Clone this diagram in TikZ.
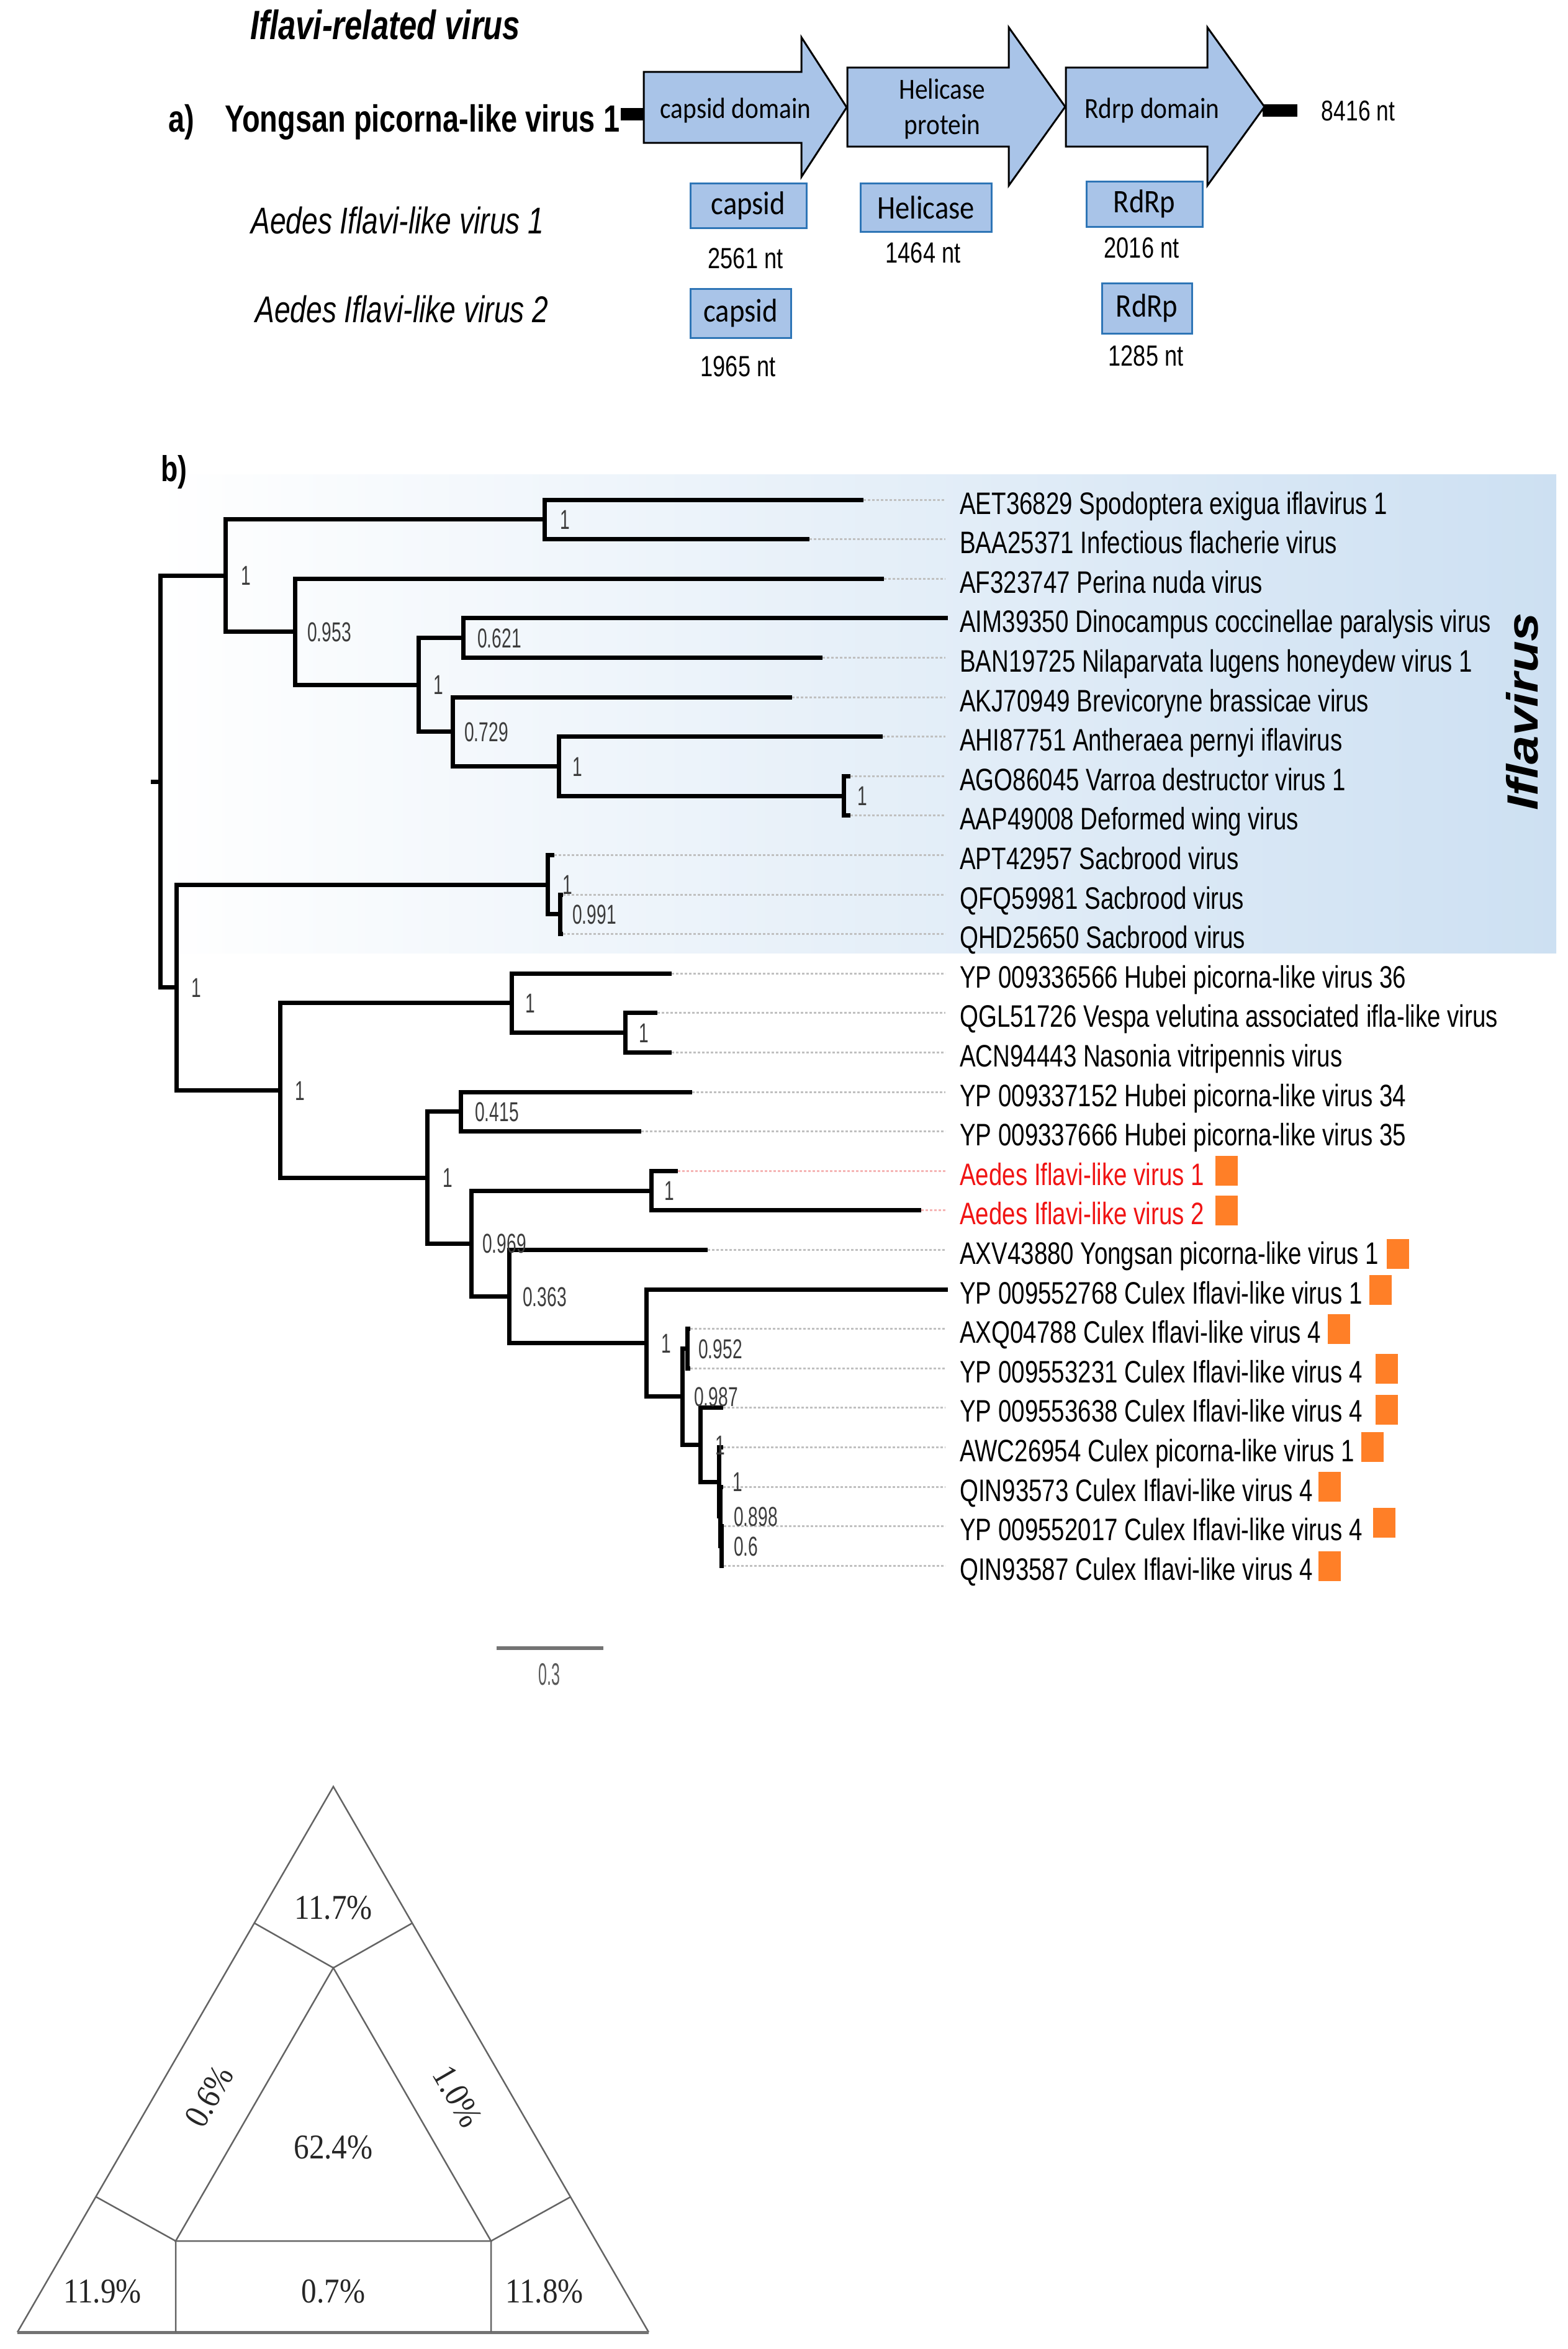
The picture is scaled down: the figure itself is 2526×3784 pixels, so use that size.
\documentclass[tikz,border=0pt]{standalone}
\usepackage{fontspec}
\usepackage{graphicx}
\setmainfont[FakeStretch=0.77]{Liberation Sans}
\newfontfamily\calfont[FakeStretch=0.88]{Carlito}
\newfontfamily\serfont[FakeStretch=0.88]{Liberation Serif}
\newfontfamily\labfont[FakeStretch=0.64]{Liberation Sans}
\newfontfamily\sclfont[FakeStretch=0.5]{Liberation Sans}
\newfontfamily\widefont{Liberation Sans}
\newcommand\myfs[1]{\fontsize{#1}{#1}\selectfont}
\definecolor{iflblue}{RGB}{205,224,242}
\definecolor{leadgray}{RGB}{192,192,192}
\definecolor{leadpink}{RGB}{245,180,180}
\definecolor{orsq}{RGB}{255,127,39}
\definecolor{aedred}{RGB}{240,20,20}
\definecolor{labgray}{RGB}{60,60,60}
\definecolor{arrblue}{RGB}{169,196,232}
\definecolor{boxedge}{RGB}{46,117,182}
\definecolor{trigray}{RGB}{100,100,100}
\begin{document}
\begin{tikzpicture}[x=1pt,y=-1pt,
  br/.style={line width=7pt,black,line join=miter},
  lead/.style={line width=3pt,dash pattern=on 4pt off 3pt},
  tiplab/.style={anchor=west,inner sep=0pt,text height=36pt,text depth=0pt,font=\myfs{50}},
  supl/.style={anchor=west,inner sep=0pt,text height=31.5pt,text depth=0pt,font=\labfont\myfs{44},text=labgray},
  osqr/.style={fill=orsq,draw=none,minimum width=36pt,minimum height=48pt,inner sep=0pt},
  arrshape/.style={fill=arrblue,draw=black,line width=3pt,line join=miter},
  arrtxt/.style={anchor=base,inner sep=0pt,font=\calfont\myfs{47}},
  dbox/.style={fill=arrblue,draw=boxedge,line width=3pt,inner sep=0pt,font=\calfont\myfs{53}},
  ntlab/.style={anchor=base,inner sep=0pt,font=\myfs{47}},
  bar/.style={line width=20pt,black},
  tri/.style={draw=trigray,line width=2.5pt,line join=miter},
  trilab/.style={inner sep=0pt,font=\serfont\myfs{56},text=black!85}]
\useasboundingbox (0,0) rectangle (2526,3784);

% ================= part a =================
\node[anchor=base west,inner sep=0pt,font=\myfs{66}\bfseries\itshape] (title) at (403,64) {Iflavi-related virus};
\node[anchor=base west,inner sep=0pt,font=\myfs{61}\bfseries] (alab) at (271,213) {a)};
\node[anchor=base west,inner sep=0pt,font=\myfs{61}\bfseries] (yong) at (362,213) {Yongsan picorna-like virus 1};
\node[anchor=base west,inner sep=0pt,font=\myfs{60}\itshape] (aed1) at (404,376) {Aedes Iflavi-like virus 1};
\node[anchor=base west,inner sep=0pt,font=\myfs{60}\itshape] (aed2) at (411,519) {Aedes Iflavi-like virus 2};

\draw[bar] (1000,184) -- (1040,184);
\draw[bar] (2034,178) -- (2090,178);
\filldraw[arrshape] (1037,116) -- (1291,116) -- (1291,60) -- (1364,173) -- (1291,285) -- (1291,230) -- (1037,230) -- cycle;
\filldraw[arrshape] (1365,109) -- (1625,109) -- (1625,44) -- (1716,172) -- (1625,299) -- (1625,236) -- (1365,236) -- cycle;
\filldraw[arrshape] (1717,109) -- (1945,109) -- (1945,44) -- (2037,172) -- (1945,299) -- (1945,236) -- (1717,236) -- cycle;
\node[arrtxt] (capdom) at (1185,191) {capsid domain};
\node[arrtxt] (heli1) at (1518,160) {Helicase};
\node[arrtxt] (heli2) at (1518,216) {protein};
\node[arrtxt] (rdrpdom) at (1856,191) {Rdrp domain};
\node[ntlab,font=\myfs{46}] (len) at (2188,195) {8416 nt};

\node[dbox,minimum width=187pt,minimum height=72pt] (bcap1) at (1205.5,331) {capsid};
\node[dbox,minimum width=211pt,minimum height=78pt] (bheli) at (1491.5,334) {Helicase};
\node[dbox,minimum width=187pt,minimum height=73pt] (brdrp1) at (1843.5,328.5) {RdRp};
\node[dbox,minimum width=162pt,minimum height=79pt] (bcap2) at (1193,504.5) {capsid};
\node[dbox,minimum width=145pt,minimum height=81pt] (brdrp2) at (1847.5,496.5) {RdRp};
\node[ntlab] (n2561) at (1201,432) {2561 nt};
\node[ntlab] (n1464) at (1487,423) {1464 nt};
\node[ntlab] (n2016) at (1839,415) {2016 nt};
\node[ntlab] (n1965) at (1189,606) {1965 nt};
\node[ntlab] (n1285) at (1846,589) {1285 nt};

% ================= part b =================
\shade[left color=white,right color=iflblue] (249,764) rectangle (2507,1535);
\node[anchor=base west,inner sep=0pt,font=\myfs{58}\bfseries] (blab) at (259,775) {b)};
\node[rotate=90,inner sep=0pt,font=\widefont\myfs{83}\bfseries\itshape] (iflv) at (2452,1146) {\scalebox{1}[0.85]{Iflavirus}};

% tips
\foreach \i/\x in {1/1391,2/1304,3/1424,4/1527,5/1325,6/1276,7/1422,8/1370,9/1370,10/893,11/907,12/907,13/1082,14/1059,15/1082,16/1115,17/1033,18/1092,19/1484,20/1140,21/1527,22/1112,23/1112,24/1165,25/1165,26/1165,27/1166,28/1166}{
  \coordinate (t\i) at (\x,{805+(\i-1)*63.6});
  \coordinate (e\i) at (1523,{805+(\i-1)*63.6});
}
% leaders
\foreach \i in {1,2,3,5,6,7,8,9,10,11,12,13,14,15,16,17,20,22,23,24,25,26,27,28}{
  \draw[lead,leadgray] (t\i) -- (e\i);
}
\foreach \i in {18,19}{
  \draw[lead,leadpink] (t\i) -- (e\i);
}

% internal nodes
\coordinate (root) at (258,1259);
\coordinate (stub) at (243,1259);
\coordinate (nA) at (363,927.2);
\coordinate (nB) at (877,836.8);
\coordinate (nC) at (475,1017.7);
\coordinate (nD) at (674,1103.1);
\coordinate (nE) at (746,1027.6);
\coordinate (nF) at (729,1178.65);
\coordinate (nG) at (900,1234.3);
\coordinate (nH) at (1359,1282);
\coordinate (nK) at (284,1590.8);
\coordinate (nI) at (882,1425.1);
\coordinate (nJ) at (902,1472.8);
\coordinate (nL) at (451,1756.5);
\coordinate (nM) at (824,1615.9);
\coordinate (nN) at (1007,1663.6);
\coordinate (nO) at (688,1897);
\coordinate (nP) at (742,1790.8);
\coordinate (nQ) at (759,2003.2);
\coordinate (nR) at (1049,1918);
\coordinate (nS) at (820,2088.4);
\coordinate (nT) at (1041,2163.45);
\coordinate (nU) at (1099,2249.9);
\coordinate (nV) at (1107,2172.4);
\coordinate (nW) at (1128,2327.4);
\coordinate (nX) at (1158,2387.05);
\coordinate (nY) at (1160,2442.7);
\coordinate (nZ) at (1162,2490.4);

\draw[br] (stub) -- (root);
\foreach \a/\b in {root/nA,root/nK,nA/nB,nA/nC,nB/t1,nB/t2,nC/t3,nC/nD,nD/nE,nD/nF,nE/t4,nE/t5,nF/t6,nF/nG,nG/t7,nG/nH,nH/t8,nH/t9,
  nK/nI,nK/nL,nI/t10,nI/nJ,nJ/t11,nJ/t12,nL/nM,nL/nO,nM/t13,nM/nN,nN/t14,nN/t15,nO/nP,nO/nQ,nP/t16,nP/t17,nQ/nR,nQ/nS,nR/t18,nR/t19,
  nS/t20,nS/nT,nT/t21,nT/nU,nU/nV,nU/nW,nV/t22,nV/t23,nW/t24,nW/nX,nX/t25,nX/nY,nY/t26,nY/nZ,nZ/t27,nZ/t28}{
  \draw[br] (\a) |- (\b);
}

% support values
\foreach \n/\v/\d in {A/1/25,B/1/25,C/0.953/20,D/1/24,E/0.621/23,F/0.729/19,G/1/22,H/1/22,K/1/24,I/1/24,J/0.991/20,L/1/24,M/1/22,N/1/22,
  O/1/25,P/0.415/23,Q/0.969/18,R/1/21,S/0.363/22,T/1/24,U/0.987/19,V/0.952/18,W/1/24,X/1/22,Y/0.898/22,Z/0.6/20}{
  \node[supl] (s\n) at ([xshift=\d pt]n\n) {\v};
}

% tip labels
\foreach \i/\c/\t in {1/black/AET36829 Spodoptera exigua iflavirus 1,
  2/black/BAA25371 Infectious flacherie virus,
  3/black/AF323747 Perina nuda virus,
  4/black/AIM39350 Dinocampus coccinellae paralysis virus,
  5/black/BAN19725 Nilaparvata lugens honeydew virus 1,
  6/black/AKJ70949 Brevicoryne brassicae virus,
  7/black/AHI87751 Antheraea pernyi iflavirus,
  8/black/AGO86045 Varroa destructor virus 1,
  9/black/AAP49008 Deformed wing virus,
  10/black/APT42957 Sacbrood virus,
  11/black/QFQ59981 Sacbrood virus,
  12/black/QHD25650 Sacbrood virus,
  13/black/YP 009336566 Hubei picorna-like virus 36,
  14/black/QGL51726 Vespa velutina associated ifla-like virus,
  15/black/ACN94443 Nasonia vitripennis virus,
  16/black/YP 009337152 Hubei picorna-like virus 34,
  17/black/YP 009337666 Hubei picorna-like virus 35,
  18/aedred/Aedes Iflavi-like virus 1,
  19/aedred/Aedes Iflavi-like virus 2,
  20/black/AXV43880 Yongsan picorna-like virus 1,
  21/black/YP 009552768 Culex Iflavi-like virus 1,
  22/black/AXQ04788 Culex Iflavi-like virus 4,
  23/black/YP 009553231 Culex Iflavi-like virus 4,
  24/black/YP 009553638 Culex Iflavi-like virus 4,
  25/black/AWC26954 Culex picorna-like virus 1,
  26/black/QIN93573 Culex Iflavi-like virus 4,
  27/black/YP 009552017 Culex Iflavi-like virus 4,
  28/black/QIN93587 Culex Iflavi-like virus 4}{
  \node[tiplab,text=\c] (lab\i) at (1546,{810+(\i-1)*63.6}) {\t};
}

% orange squares
\foreach \i/\x/\y in {18/1976/1886,19/1976/1950,20/2252/2020,21/2224/2078,22/2157/2141,23/2234/2205,24/2234/2271,25/2211/2331,26/2142/2395,27/2230/2453,28/2142/2523}{
  \node[osqr] (q\i) at (\x,\y) {};
}

% scale bar
\coordinate (sb1) at (800,2655);
\coordinate (sb2) at (972,2655);
\draw[line width=6pt,black!55] (sb1) -- (sb2);
\node[inner sep=0pt,font=\sclfont\myfs{50},text=black!65] (sblab) at (885,2697) {0.3};

% ================= triangle =================
\coordinate (oA) at (537,2878);
\coordinate (oL) at (28,3757);
\coordinate (oR) at (1045,3757);
\coordinate (iA) at (537,3170);
\coordinate (iL) at (283,3610);
\coordinate (iR) at (791,3610);
\coordinate (eL1) at (410,3098);
\coordinate (eR1) at (664,3098);
\coordinate (eL2) at (155,3539);
\coordinate (eR2) at (919,3539);
\coordinate (bL) at (283,3757);
\coordinate (bR) at (791,3757);
\draw[tri] (oL) -- (oA) -- (oR);
\draw[draw=black!55,line width=5pt] (oL) -- (oR);
\draw[tri] (iA) -- (iL) -- (iR) -- cycle;
\draw[tri] (eL1) -- (iA) -- (eR1);
\draw[tri] (eL2) -- (iL) -- (bL);
\draw[tri] (eR2) -- (iR) -- (bR);
\node[trilab] (p117) at (537,3073) {11.7\%};
\node[trilab,rotate=60] (p06) at (337,3377) {0.6\%};
\node[trilab,rotate=-60] (p10) at (737,3377) {1.0\%};
\node[trilab] (p624) at (537,3459) {62.4\%};
\node[trilab] (p119) at (165,3691) {11.9\%};
\node[trilab] (p07) at (537,3691) {0.7\%};
\node[trilab] (p118) at (877,3691) {11.8\%};
\end{tikzpicture}
\end{document}
